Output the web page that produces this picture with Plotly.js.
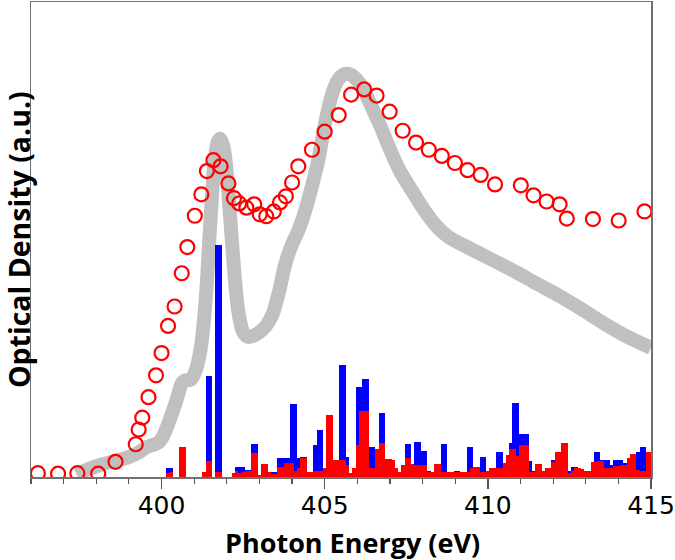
<!DOCTYPE html>
<html>
<head>
<meta charset="utf-8">
<script src="https://cdn.plot.ly/plotly-3.0.1.min.js"></script>
<style>html,body{margin:0;padding:0;background:#fff;}#chart{width:675px;height:560px;}</style>
</head>
<body>
<div id="chart"></div>
<script>
// Experimental spectrum (grey band)
const expEnergy = [397.4,397.8,398.2,398.6,399.0,399.3,399.55,399.75,399.9,400.05,400.25,400.45,400.62,400.7,400.9,401.05,401.2,401.35,401.5,401.62,401.72,401.8,401.9,402.0,402.1,402.22,402.35,402.5,402.65,402.8,403.0,403.2,403.4,403.6,403.8,404.0,404.2,404.4,404.6,404.8,405.0,405.2,405.4,405.6,405.8,406.0,406.2,406.4,406.7,407.0,407.3,407.7,408.0,408.4,408.8,409.2,409.6,410.2,410.9,411.5,412.2,412.9,413.5,414.2,415.0];
const expOD = [0.005,0.018,0.027,0.034,0.042,0.052,0.063,0.068,0.072,0.086,0.12,0.16,0.197,0.203,0.205,0.225,0.27,0.37,0.54,0.66,0.705,0.712,0.695,0.64,0.55,0.44,0.35,0.305,0.295,0.297,0.305,0.318,0.342,0.39,0.45,0.49,0.52,0.56,0.61,0.665,0.74,0.80,0.835,0.848,0.847,0.835,0.815,0.785,0.74,0.69,0.645,0.60,0.567,0.53,0.505,0.49,0.476,0.455,0.43,0.407,0.381,0.352,0.326,0.298,0.272];

// Second spectrum (open red circles)
const circEnergy = [396.21,396.83,397.42,398.06,398.59,399.21,399.30,399.41,399.60,399.83,400.00,400.20,400.40,400.62,400.79,401.02,401.22,401.39,401.59,401.81,402.05,402.22,402.38,402.60,402.84,403.01,403.21,403.44,403.63,403.81,404.00,404.19,404.61,405.00,405.43,405.81,406.21,406.59,406.99,407.39,407.80,408.19,408.59,408.99,409.38,409.78,410.22,411.01,411.40,411.80,412.20,412.42,413.22,414.01,414.80];
const circOD = [0.008,0.007,0.008,0.007,0.032,0.069,0.100,0.125,0.168,0.214,0.261,0.318,0.359,0.429,0.484,0.550,0.595,0.644,0.667,0.654,0.618,0.587,0.576,0.567,0.574,0.553,0.549,0.559,0.578,0.591,0.620,0.654,0.689,0.727,0.762,0.805,0.816,0.803,0.769,0.729,0.704,0.689,0.676,0.661,0.646,0.636,0.616,0.614,0.593,0.580,0.574,0.544,0.543,0.540,0.559];

// Calculated transitions binned in 0.1 eV
const binEnergy = [400.0,400.1,400.2,400.3,400.4,400.5,400.6,400.7,400.8,400.9,
401.0,401.1,401.2,401.3,401.4,401.5,401.6,401.7,401.8,401.9,
402.0,402.1,402.2,402.3,402.4,402.5,402.6,402.7,402.8,402.9,
403.0,403.1,403.2,403.3,403.4,403.5,403.6,403.7,403.8,403.9,
404.0,404.1,404.2,404.3,404.4,404.5,404.6,404.7,404.8,404.9,
405.0,405.1,405.2,405.3,405.4,405.5,405.6,405.7,405.8,405.9,
406.0,406.1,406.2,406.3,406.4,406.5,406.6,406.7,406.8,406.9,
407.0,407.1,407.2,407.3,407.4,407.5,407.6,407.7,407.8,407.9,
408.0,408.1,408.2,408.3,408.4,408.5,408.6,408.7,408.8,408.9,
409.0,409.1,409.2,409.3,409.4,409.5,409.6,409.7,409.8,409.9,
410.0,410.1,410.2,410.3,410.4,410.5,410.6,410.7,410.8,410.9,
411.0,411.1,411.2,411.3,411.4,411.5,411.6,411.7,411.8,411.9,
412.0,412.1,412.2,412.3,412.4,412.5,412.6,412.7,412.8,412.9,
413.0,413.1,413.2,413.3,413.4,413.5,413.6,413.7,413.8,413.9,
414.0,414.1,414.2,414.3,414.4,414.5,414.6,414.7,414.8,414.9,415.0];
const blueBars = [0,0,.020,.020,0,0,0,0,0,0,
0,0,0,0,.212,.212,0,.488,.488,0,
0,0,0,.022,.022,.022,.014,.014,.070,.070,
0,0,0,0,.010,.010,.040,.040,.040,.040,
.154,.154,.040,.042,.042,0,.010,.067,.100,.100,
0,0,0,0,0,.236,.236,.043,0,0,
.190,.190,.206,.206,.064,.064,0,.134,.134,0,
0,0,0,0,0,.069,.069,.028,.073,.073,
.055,.055,.012,0,0,0,.069,.069,0,0,
.013,.013,0,0,.063,.063,0,0,.043,.043,
0,0,0,.053,.053,0,0,.071,.155,.155,
.090,.090,.090,.033,.012,0,0,0,0,0,
.035,0,0,0,0,.012,.021,.021,0,0,
.013,.013,.024,.053,.053,.036,.035,.035,.025,.035,
.036,.036,.030,0,0,0,.053,.063,.063,0,0];
const redBars = [0,0,.008,.011,0,0,.063,.063,0,0,
0,0,0,.010,.034,.034,0,.010,.010,0,
0,0,.008,.012,.008,.010,.012,.012,.050,.050,
.005,.028,.028,.010,.006,.006,.022,.022,.029,.029,
.029,.013,.020,.040,.040,.010,.010,.012,.013,.013,
.020,.130,.130,.036,.036,.036,.036,.025,.008,.020,
.067,.140,.140,.140,.019,.019,.058,.072,.072,.037,
.037,.035,.020,.011,.025,.041,.041,.028,.025,.025,
.025,.025,.010,.010,.027,.027,.010,.010,.010,.010,
.010,.010,.011,.011,.010,.020,.022,.022,.010,.010,
.013,.020,.020,.020,.020,.030,.046,.059,.059,.044,
.067,.067,.067,.010,.010,.027,.027,.013,.020,.020,
.032,.052,.052,.071,.071,.008,.013,.019,.019,.017,
.013,.013,.032,.032,.034,.034,.020,.020,.020,.024,
.024,.025,.025,.040,.048,.048,.014,.013,.013,.052,.052];

const xTitle = 'Photon Energy (eV)';
const yTitle = 'Optical Density (a.u.)';

const traces = [
  {type:'scatter', mode:'lines', x:expEnergy, y:expOD, xaxis:'x', yaxis:'y',
   line:{color:'#c0c0c0', width:14, shape:'spline', smoothing:0.8}, hoverinfo:'skip'},
  {type:'bar', x:binEnergy, y:blueBars, width:0.1, xaxis:'x2', yaxis:'y2',
   marker:{color:'#0000ff', line:{width:0}}},
  {type:'bar', x:binEnergy, y:redBars, width:0.1, xaxis:'x2', yaxis:'y2',
   marker:{color:'#ff0000', line:{width:0}}},
  {type:'scatter', mode:'markers', x:circEnergy, y:circOD, xaxis:'x2', yaxis:'y2',
   marker:{symbol:'circle-open', size:14, color:'#ff0000', line:{width:2.2, color:'#ff0000'}}}
];

const frame = {showline:true, mirror:true, linecolor:'#707070', linewidth:1.5, showgrid:false, zeroline:false};

const layout = {
  width:675, height:560,
  margin:{l:31, r:24, t:2, b:83},
  paper_bgcolor:'#ffffff', plot_bgcolor:'#ffffff',
  showlegend:false, barmode:'overlay', bargap:0,
  font:{family:'Open Sans, sans-serif', color:'#000'},
  xaxis:Object.assign({}, frame, {
    range:[396,415], tick0:400, dtick:5, ticks:'outside', ticklen:10, tickwidth:1.5, tickcolor:'#555',
    tickfont:{family:'DejaVu Sans', size:25, color:'#000'}, ticklabelstandoff:-5,
    minor:{dtick:1, tick0:396, ticks:'outside', ticklen:5, tickwidth:1.2, tickcolor:'#555', showgrid:false}
  }),
  yaxis:Object.assign({}, frame, {range:[0,1], showticklabels:false, ticks:''}),
  xaxis2:{overlaying:'x', anchor:'y2', range:[396,415], visible:false, showgrid:false, zeroline:false},
  yaxis2:{overlaying:'y', anchor:'x2', range:[0,1], visible:false, showgrid:false, zeroline:false},
  annotations:[
    {text:xTitle, xref:'paper', yref:'paper', x:0.519, y:-0.094, xanchor:'center', yanchor:'top', showarrow:false,
     font:{family:'Open Sans', size:27, color:'#000', weight:'bold'}},
    {text:yTitle, xref:'paper', yref:'paper', x:-0.02, y:0.5, xanchor:'center', yanchor:'middle', showarrow:false, textangle:-90,
     font:{family:'Open Sans', size:28.5, color:'#000', weight:'bold'}}
  ]
};

Plotly.newPlot('chart', traces, layout, {displayModeBar:false, staticPlot:true});
</script>
</body>
</html>
